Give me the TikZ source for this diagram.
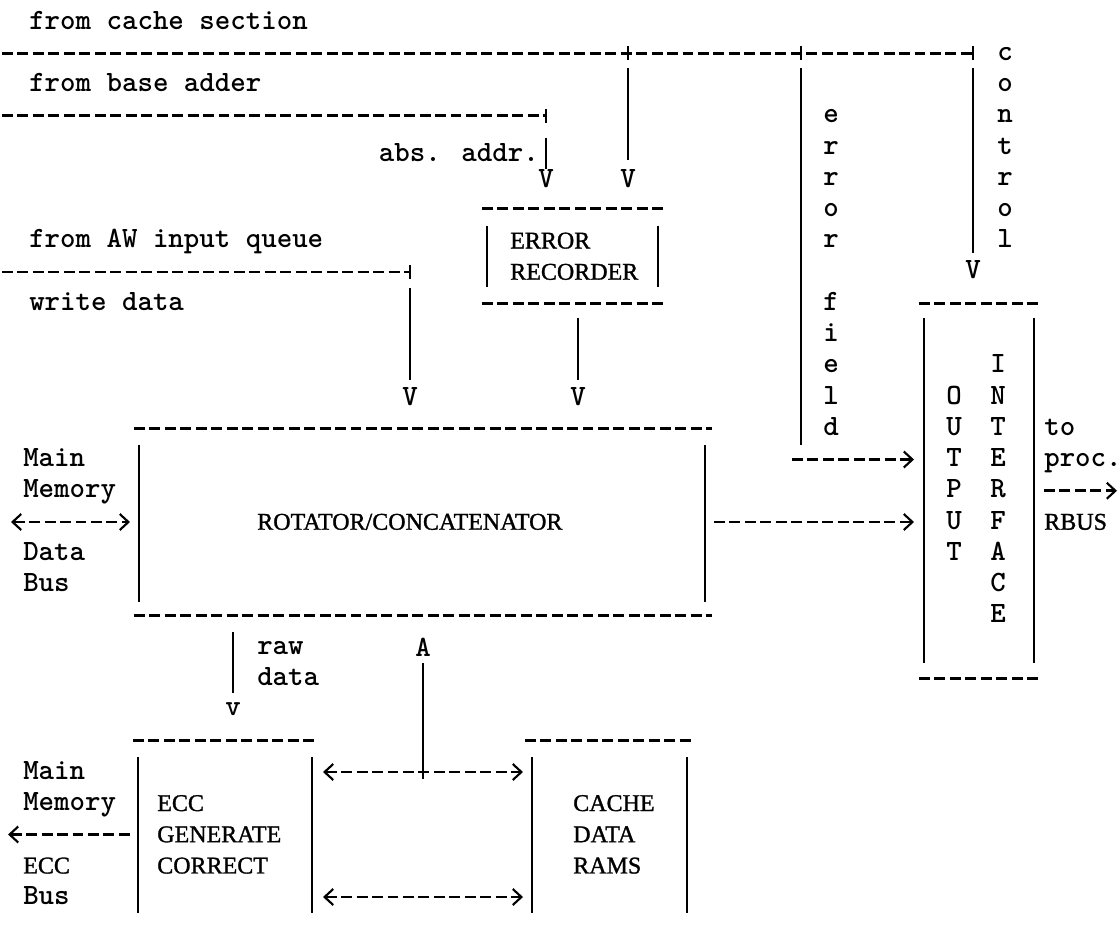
\documentclass[tikz,border=0pt]{standalone}
\usepackage{fontspec}
\newfontfamily\labelserif[FakeBold=1.2]{Liberation Serif}
\usetikzlibrary{arrows.meta,calc,fit}
\newcommand\typewriter{\fontsize{22.1pt}{26pt}\selectfont\ttfamily\bfseries}
\newcommand\boxserif{\fontsize{18pt}{21pt}\selectfont\labelserif}
\tikzset{
  bus/.style={line width=2.2pt, dash pattern=on 8.2pt off 3.4pt},
  wire/.style={line width=1.6pt},
  tw/.style={font=\typewriter, inner sep=0pt, anchor=base west},
  twc/.style={font=\typewriter, inner sep=0pt, anchor=base},
  sf/.style={font=\boxserif, inner sep=0pt, anchor=base west},
  head/.style={font=\typewriter, inner sep=0pt},
  blk/.style={inner sep=0pt, outer sep=0pt},
}
\begin{document}
\begin{tikzpicture}[x=0.75pt, y=-0.75pt,
  >={Straight Barb[length=6.5pt,width=12pt,line width=1.6pt]}]
\useasboundingbox (0,0) rectangle (1120,928);

% ---------- incoming buses
\node[tw] (fromCache) at (29,29) {from cache section};
\coordinate (cacheSrc) at (2,53.25);
\coordinate (jErr) at (628,53.25);
\coordinate (jFld) at (801,53.25);
\coordinate (jCtl) at (973,53.25);
\draw[bus] (cacheSrc) -- (jCtl);

\node[tw] (fromBase) at (29,91.5) {from base adder};
\coordinate (baseSrc) at (2,115.75);
\coordinate (jAbs) at (546,115.75);
\draw[bus] (baseSrc) -- (jAbs);
\node[tw, anchor=base east] (absAddr) at (539,161) {abs. addr.};

\node[tw] (fromAW) at (29,247.75) {from AW input queue};
\coordinate (awSrc) at (2,272);
\coordinate (jAw) at (410,272);
\draw[bus] (awSrc) -- (jAw);
\node[tw] (writeData) at (29,310.25) {write data};

% junction marks
\foreach \j in {jErr,jFld,jCtl,jAbs,jAw}
  \draw[wire] ($(\j)+(0,-7)$) -- ($(\j)+(0,7)$);

% ---------- error recorder
\coordinate (errNW) at (482,208.5);
\coordinate (errSE) at (665,303.25);
\node[blk, fit=(errNW)(errSE)] (errBox) {};
\draw[bus] (errBox.north west) -- (errBox.north east);
\draw[bus] (errBox.south west) -- (errBox.south east);
\draw[wire] ($(errBox.north west)+(5,17)$) -- ($(errBox.south west)+(5,-16)$);
\draw[wire] ($(errBox.north east)+(-7,17)$) -- ($(errBox.south east)+(-7,-16)$);
\node[sf] (errL1) at (510,248.5) {ERROR};
\node[sf] (errL2) at (510,279.7) {RECORDER};

\node[head] (vAbs) at (546,178.25) {V};
\node[head] (vErr) at (628,178.25) {V};
\draw[wire] ($(jAbs)+(0,22)$) -- (vAbs.north);
\draw[wire] ($(jErr)+(0,15)$) -- ([yshift=6.5pt]vErr.north);

% ---------- rotator / concatenator
\coordinate (rotNW) at (134,428.25);
\coordinate (rotSE) at (712,615.75);
\node[blk, fit=(rotNW)(rotSE)] (rotBox) {};
\draw[bus] (rotBox.north west) -- (rotBox.north east);
\draw[bus] (rotBox.south west) -- (rotBox.south east);
\draw[wire] ($(rotBox.north west)+(5,17)$) -- ($(rotBox.south west)+(5,-14)$);
\draw[wire] ($(rotBox.north east)+(-7,17)$) -- ($(rotBox.south east)+(-7,-14)$);
\node[sf] (rotL) at (257,529.7) {ROTATOR/CONCATENATOR};

\node[head] (vAw) at (410,397) {V};
\draw[wire] ($(jAw)+(0,16)$) -- ([yshift=6pt]vAw.north);
\node[head] (vRec) at (578,397) {V};
\draw[wire] ($(vRec |- errBox.south)+(0,15)$) -- ([yshift=6pt]vRec.north);

% main memory data bus
\node[tw] (mdb1) at (23,466.5) {Main};
\node[tw] (mdb2) at (23,497.75) {Memory};
\node[tw] (mdb3) at (23,560.25) {Data};
\node[tw] (mdb4) at (23,591.5) {Bus};
\coordinate (mdbEnd) at (11,522);
\draw[bus, <->] (mdbEnd) -- ($(rotBox.west)+(-4,0)$);

% ---------- output interface
\coordinate (outNW) at (919,303.25);
\coordinate (outSE) at (1042,678.25);
\node[blk, fit=(outNW)(outSE)] (outBox) {};
\draw[bus] (outBox.north west) -- (outBox.north east);
\draw[bus] (outBox.south west) -- (outBox.south east);
\draw[wire] ($(outBox.north west)+(5,15)$) -- ($(outBox.south west)+(5,-15)$);
\draw[wire] ($(outBox.north east)+(-8,15)$) -- ($(outBox.south east)+(-8,-15)$);
\foreach \ch/\k in {O/12,U/13,T/14,P/15,U/16,T/17}
  \node[twc] (outA\k) at (954,{29+31.25*\k}) {\ch};
\foreach \ch/\k in {I/11,N/12,T/13,E/14,R/15,F/16,A/17,C/18,E/19}
  \node[twc] (outB\k) at (998,{29+31.25*\k}) {\ch};

\draw[bus, ->] ($(rotBox.east)+(2,0)$) -- ($(outBox.west |- rotBox.east)+(-5,0)$);

% error field
\coordinate (fldEnd) at (801,445);
\coordinate (fldArr) at (792,459.5);
\draw[wire] ($(jFld)+(0,15)$) -- (fldEnd);
\draw[bus, ->] (fldArr) -- ($(outBox.west |- fldArr)+(-5,0)$);
\foreach \ch/\k in {e/3,r/4,r/5,o/6,r/7,f/9,i/10,e/11,l/12,d/13}
  \node[twc] (fld\k) at (831,{29+31.25*\k}) {\ch};

% control
\node[head] (vCtl) at (973,270) {V};
\draw[wire] ($(jCtl)+(0,15)$) -- ([yshift=6pt]vCtl.north);
\foreach \ch/\k in {c/1,o/2,n/3,t/4,r/5,o/6,l/7}
  \node[twc] (ctl\k) at (1005,{29+31.25*\k}) {\ch};

% to processor
\node[tw] (toL) at (1044,435.25) {to};
\node[tw] (procL) at (1044,466.5) {proc.};
\coordinate (rbusEnd) at (1117,490.75);
\draw[bus, ->] ($(outBox.east)+(2,0)$) -- (rbusEnd);
\node[sf] (rbusL) at (1044,529.7) {RBUS};

% ---------- ECC and cache data RAMs
\coordinate (eccNW) at (133,740.75);
\coordinate (eccSE) at (318,913);
\node[blk, fit=(eccNW)(eccSE)] (eccBox) {};
\draw[bus] (eccBox.north west) -- (eccBox.north east);
\draw[wire] ($(eccBox.north west)+(5,16)$) -- ($(eccBox.south west)+(5,0)$);
\draw[wire] ($(eccBox.north east)+(-6,16)$) -- ($(eccBox.south east)+(-6,0)$);
\node[sf] (eccL1) at (157,811) {ECC};
\node[sf] (eccL2) at (157,842.2) {GENERATE};
\node[sf] (eccL3) at (157,873.45) {CORRECT};

\coordinate (ramNW) at (525,740.75);
\coordinate (ramSE) at (695,913);
\node[blk, fit=(ramNW)(ramSE)] (ramBox) {};
\draw[bus] (ramBox.north west) -- (ramBox.north east);
\draw[wire] ($(ramBox.north west)+(7,16)$) -- ($(ramBox.south west)+(7,0)$);
\draw[wire] ($(ramBox.north east)+(-8,16)$) -- ($(ramBox.south east)+(-8,0)$);
\node[sf] (ramL1) at (573,811) {CACHE};
\node[sf] (ramL2) at (573,842.2) {DATA};
\node[sf] (ramL3) at (573,873.45) {RAMS};

% raw data down to ECC
\node[head] (vRaw) at (233,709.5) {v};
\draw[wire] ($(vRaw |- rotBox.south)+(0,16)$) -- ([yshift=7pt]vRaw.north);
\node[tw] (rawL1) at (257,654) {raw};
\node[tw] (rawL2) at (257,685.25) {data};

% corrected data back up to the rotator
\node[head] (aUp) at (423,647) {A};
\coordinate (jBus) at (423,772);
\coordinate (lowBus) at (423,897);
\draw[wire] ($(jBus)+(0,7)$) -- ([yshift=-5pt]aUp.south);
\draw[bus, <->] ($(eccBox.east |- jBus)+(5,0)$) -- ($(ramBox.west |- jBus)+(-2,0)$);
\draw[bus, <->] ($(eccBox.east |- lowBus)+(5,0)$) -- ($(ramBox.west |- lowBus)+(-2,0)$);

% main memory ECC bus
\node[tw] (meb1) at (23,779) {Main};
\node[tw] (meb2) at (23,810.25) {Memory};
\coordinate (mebEnd) at (8,834.5);
\draw[bus, <-] (mebEnd) -- ($(eccBox.west |- mebEnd)+(-3,0)$);
\node[sf] (meb3) at (23,873.45) {ECC};
\node[tw] (meb4) at (23,904) {Bus};
\end{tikzpicture}
\end{document}
